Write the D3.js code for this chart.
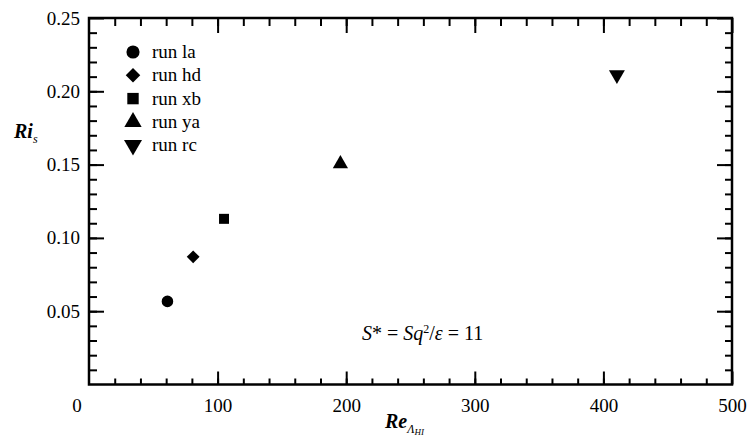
<!DOCTYPE html>
<html>
<head>
<meta charset="utf-8">
<script src="https://cdn.jsdelivr.net/npm/d3@7"></script>
<style>
  body { margin: 0; background: #fff; }
  .axis path { display: none; }
  .axis line { stroke: #000; stroke-width: 2; }
</style>
</head>
<body>
<svg width="752" height="441"></svg>
<script>
// runs and their values
const runs   = ["run la", "run hd", "run xb", "run ya", "run rc"];
const reVals = [61, 81, 105, 195.5, 410.5];
const riVals = [0.0567, 0.0871, 0.1130, 0.1505, 0.2112];

const xTicks = [100, 200, 300, 400, 500];
const yTicks = [0.05, 0.10, 0.15, 0.20, 0.25];

const SERIF = "'Liberation Serif', 'Times New Roman', serif";

let svg = d3.select("svg");
let margin = {top: 18, right: 20, bottom: 56.5, left: 89};
let width = +svg.attr("width") - margin.left - margin.right,
    height = +svg.attr("height") - margin.top - margin.bottom;

let x = d3.scaleLinear().domain([0, 500]).range([0, width]),
    y = d3.scaleLinear().domain([0, 0.25]).range([height, 0]);

let g = svg.append("g")
  .attr("transform", "translate(" + margin.left + "," + margin.top + ")");

// minor ticks every 20 / 0.01, major ones labelled
const xMinor = d3.range(20, 500, 20);
const yMinor = d3.range(1, 25).map(d => d / 100);

function axis(a, tx, ty) {
  return g.append("g").attr("class", "axis")
    .attr("transform", "translate(" + tx + "," + ty + ")")
    .call(a)
    .attr("font-family", null).attr("font-size", null)
    .call(s => s.selectAll("text").style("font-family", SERIF).style("font-size", "19px").attr("fill", "#000"));
}

axis(d3.axisBottom(x).tickValues(xMinor).tickSize(-6).tickFormat(""), 0, height);
axis(d3.axisBottom(x).tickValues(xTicks).tickSize(-13).tickPadding(14).tickFormat(d3.format("d")), 0, height);
axis(d3.axisTop(x).tickValues(xMinor).tickSize(-8).tickFormat(""), 0, 0);
axis(d3.axisTop(x).tickValues(xTicks).tickSize(-15).tickFormat(""), 0, 0);
axis(d3.axisLeft(y).tickValues(yMinor).tickSize(-8).tickFormat(""), 0, 0);
axis(d3.axisLeft(y).tickValues(yTicks).tickSize(-15).tickPadding(9).tickFormat(d3.format(".2f")), 0, 0);
axis(d3.axisRight(y).tickValues(yMinor).tickSize(-7).tickFormat(""), width, 0);
axis(d3.axisRight(y).tickValues(yTicks).tickSize(-15).tickFormat(""), width, 0);

// frame
g.append("rect")
  .attr("width", width).attr("height", height)
  .attr("fill", "none").attr("stroke", "#000").attr("stroke-width", 2.5);

// the shared origin label sits off the corner
g.append("text")
  .attr("x", x(0) - 12).attr("y", height + 27.5)
  .attr("text-anchor", "middle")
  .style("font-family", SERIF).style("font-size", "19px")
  .text("0");

// markers: circle, diamond, square, triangle, triangle down
const shapes = [
  {type: d3.symbolCircle, size: 105, rot: 0},
  {type: d3.symbolDiamond2, size: 105, rot: 0},
  {type: d3.symbolSquare, size: 100, rot: 0},
  {type: d3.symbolTriangle, size: 100, rot: 0},
  {type: d3.symbolTriangle, size: 110, rot: 180}
];

g.selectAll(".pt")
  .data(reVals)
  .enter().append("path")
    .attr("class", "pt")
    .attr("d", (d, i) => d3.symbol().type(shapes[i].type).size(shapes[i].size)())
    .attr("transform", (d, i) => "translate(" + x(d) + "," + y(riVals[i]) + ") rotate(" + shapes[i].rot + ")")
    .attr("fill", "#000");

// legend
let lg = g.append("g").attr("transform", "translate(44,34)");
let rows = lg.selectAll(".row")
  .data(runs)
  .enter().append("g")
    .attr("class", "row")
    .attr("transform", (d, i) => "translate(0," + (i * 23.3) + ")");
rows.append("path")
  .attr("d", (d, i) => d3.symbol().type(shapes[i].type).size(shapes[i].size + 30)())
  .attr("transform", (d, i) => "rotate(" + shapes[i].rot + ")")
  .attr("fill", "#000");
rows.append("text")
  .attr("x", 19).attr("y", 6)
  .style("font-family", SERIF).style("font-size", "19px")
  .text(d => d);

// annotation
let ann = g.append("text")
  .attr("x", 273).attr("y", 322)
  .style("font-family", SERIF).style("font-size", "20px");
ann.append("tspan").style("font-style", "italic").text("S");
ann.append("tspan").text("* = ");
ann.append("tspan").style("font-style", "italic").text("Sq");
ann.append("tspan").attr("dy", -7).style("font-size", "12px").text("2");
ann.append("tspan").attr("dy", 7).text("/");
ann.append("tspan").style("font-style", "italic").text("ε");
ann.append("tspan").text(" = 11");

// axis titles
let yl = svg.append("text")
  .attr("x", 14).attr("y", 138)
  .style("font-family", SERIF).style("font-size", "20px")
  .style("font-style", "italic").style("font-weight", "bold");
yl.append("tspan").text("Ri");
yl.append("tspan").attr("dy", 5).style("font-size", "12px").style("font-weight", "normal").text("s");

let xl = svg.append("text")
  .attr("x", 385).attr("y", 428)
  .style("font-family", SERIF).style("font-size", "20px")
  .style("font-style", "italic").style("font-weight", "bold");
xl.append("tspan").text("Re");
xl.append("tspan").attr("dy", 5).style("font-size", "12px").style("font-weight", "normal").text("Λ");
xl.append("tspan").attr("dy", 2).style("font-size", "9px").style("font-weight", "normal").text("HI");
</script>
</body>
</html>
